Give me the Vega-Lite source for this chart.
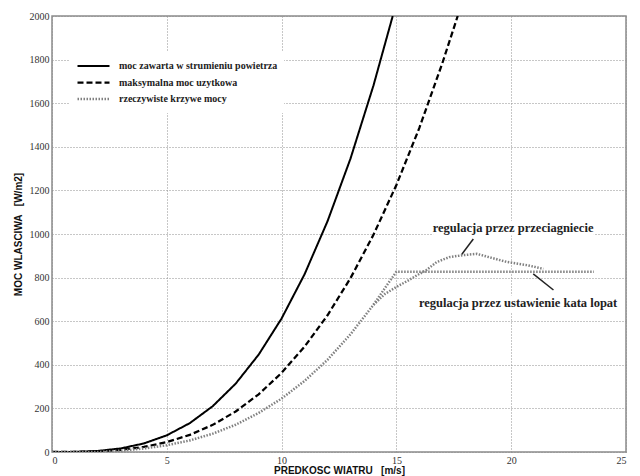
{
  "$schema": "https://vega.github.io/schema/vega-lite/v6.json",
  "width": 574,
  "height": 436,
  "autosize": {"type": "none"},
  "padding": {"left": 52, "top": 16, "right": 14, "bottom": 24},
  "background": "white",
  "config": {
    "view": {"stroke": "#8a8a8a", "strokeWidth": 1.5},
    "axis": {
      "labelFont": "Liberation Serif",
      "labelFontSize": 10,
      "labelColor": "#333",
      "titleFont": "Liberation Sans",
      "titleFontSize": 10,
      "titleFontWeight": "bold",
      "titleColor": "#111",
      "domain": false,
      "grid": true,
      "gridColor": "#8f8f8f",
      "gridDash": [1, 2],
      "gridWidth": 1,
      "ticks": false,
      "labelPadding": 3
    },
    "legend": {
      "orient": "none",
      "legendX": 18,
      "legendY": 36,
      "fillColor": "white",
      "padding": 6,
      "labelFont": "Liberation Serif",
      "labelFontSize": 10,
      "labelFontWeight": "bold",
      "labelColor": "#222",
      "labelOffset": 8,
      "symbolSize": 1024,
      "clipHeight": 16,
      "rowPadding": 0.5
    }
  },
  "datasets": {
    "krzywe": [
      {"v": 0, "p": 0, "seria": "moc zawarta w strumieniu powietrza", "krzywa": "A"},
      {"v": 1, "p": 0.6, "seria": "moc zawarta w strumieniu powietrza", "krzywa": "A"},
      {"v": 2, "p": 4.9, "seria": "moc zawarta w strumieniu powietrza", "krzywa": "A"},
      {"v": 3, "p": 16.5, "seria": "moc zawarta w strumieniu powietrza", "krzywa": "A"},
      {"v": 4, "p": 39.2, "seria": "moc zawarta w strumieniu powietrza", "krzywa": "A"},
      {"v": 5, "p": 76.6, "seria": "moc zawarta w strumieniu powietrza", "krzywa": "A"},
      {"v": 6, "p": 132.3, "seria": "moc zawarta w strumieniu powietrza", "krzywa": "A"},
      {"v": 7, "p": 210.1, "seria": "moc zawarta w strumieniu powietrza", "krzywa": "A"},
      {"v": 8, "p": 313.6, "seria": "moc zawarta w strumieniu powietrza", "krzywa": "A"},
      {"v": 9, "p": 446.5, "seria": "moc zawarta w strumieniu powietrza", "krzywa": "A"},
      {"v": 10, "p": 612.5, "seria": "moc zawarta w strumieniu powietrza", "krzywa": "A"},
      {"v": 11, "p": 815.2, "seria": "moc zawarta w strumieniu powietrza", "krzywa": "A"},
      {"v": 12, "p": 1058.4, "seria": "moc zawarta w strumieniu powietrza", "krzywa": "A"},
      {"v": 13, "p": 1345.7, "seria": "moc zawarta w strumieniu powietrza", "krzywa": "A"},
      {"v": 14, "p": 1680.7, "seria": "moc zawarta w strumieniu powietrza", "krzywa": "A"},
      {"v": 14.84, "p": 2000, "seria": "moc zawarta w strumieniu powietrza", "krzywa": "A"},
      {"v": 0, "p": 0, "seria": "maksymalna moc uzytkowa", "krzywa": "B"},
      {"v": 1, "p": 0.4, "seria": "maksymalna moc uzytkowa", "krzywa": "B"},
      {"v": 2, "p": 2.9, "seria": "maksymalna moc uzytkowa", "krzywa": "B"},
      {"v": 3, "p": 9.8, "seria": "maksymalna moc uzytkowa", "krzywa": "B"},
      {"v": 4, "p": 23.2, "seria": "maksymalna moc uzytkowa", "krzywa": "B"},
      {"v": 5, "p": 45.4, "seria": "maksymalna moc uzytkowa", "krzywa": "B"},
      {"v": 6, "p": 78.4, "seria": "maksymalna moc uzytkowa", "krzywa": "B"},
      {"v": 7, "p": 124.5, "seria": "maksymalna moc uzytkowa", "krzywa": "B"},
      {"v": 8, "p": 185.8, "seria": "maksymalna moc uzytkowa", "krzywa": "B"},
      {"v": 9, "p": 264.6, "seria": "maksymalna moc uzytkowa", "krzywa": "B"},
      {"v": 10, "p": 363.0, "seria": "maksymalna moc uzytkowa", "krzywa": "B"},
      {"v": 11, "p": 483.1, "seria": "maksymalna moc uzytkowa", "krzywa": "B"},
      {"v": 12, "p": 627.2, "seria": "maksymalna moc uzytkowa", "krzywa": "B"},
      {"v": 13, "p": 797.4, "seria": "maksymalna moc uzytkowa", "krzywa": "B"},
      {"v": 14, "p": 996.0, "seria": "maksymalna moc uzytkowa", "krzywa": "B"},
      {"v": 15, "p": 1225.0, "seria": "maksymalna moc uzytkowa", "krzywa": "B"},
      {"v": 16, "p": 1486.7, "seria": "maksymalna moc uzytkowa", "krzywa": "B"},
      {"v": 17, "p": 1783.3, "seria": "maksymalna moc uzytkowa", "krzywa": "B"},
      {"v": 17.67, "p": 2000, "seria": "maksymalna moc uzytkowa", "krzywa": "B"},
      {"v": 0, "p": 0, "seria": "rzeczywiste krzywe mocy", "krzywa": "C"},
      {"v": 2, "p": 0, "seria": "rzeczywiste krzywe mocy", "krzywa": "C"},
      {"v": 3, "p": 6, "seria": "rzeczywiste krzywe mocy", "krzywa": "C"},
      {"v": 4, "p": 16, "seria": "rzeczywiste krzywe mocy", "krzywa": "C"},
      {"v": 5, "p": 31, "seria": "rzeczywiste krzywe mocy", "krzywa": "C"},
      {"v": 6, "p": 53, "seria": "rzeczywiste krzywe mocy", "krzywa": "C"},
      {"v": 7, "p": 84, "seria": "rzeczywiste krzywe mocy", "krzywa": "C"},
      {"v": 8, "p": 125, "seria": "rzeczywiste krzywe mocy", "krzywa": "C"},
      {"v": 9, "p": 179, "seria": "rzeczywiste krzywe mocy", "krzywa": "C"},
      {"v": 10, "p": 245, "seria": "rzeczywiste krzywe mocy", "krzywa": "C"},
      {"v": 11, "p": 326, "seria": "rzeczywiste krzywe mocy", "krzywa": "C"},
      {"v": 12, "p": 423, "seria": "rzeczywiste krzywe mocy", "krzywa": "C"},
      {"v": 13, "p": 540, "seria": "rzeczywiste krzywe mocy", "krzywa": "C"},
      {"v": 14, "p": 675, "seria": "rzeczywiste krzywe mocy", "krzywa": "C"},
      {"v": 14.5, "p": 752, "seria": "rzeczywiste krzywe mocy", "krzywa": "C"},
      {"v": 15, "p": 827, "seria": "rzeczywiste krzywe mocy", "krzywa": "C"},
      {"v": 23.6, "p": 827, "seria": "rzeczywiste krzywe mocy", "krzywa": "C"},
      {"v": 14, "p": 675, "seria": "rzeczywiste krzywe mocy", "krzywa": "D"},
      {"v": 14.5, "p": 725, "seria": "rzeczywiste krzywe mocy", "krzywa": "D"},
      {"v": 15, "p": 757, "seria": "rzeczywiste krzywe mocy", "krzywa": "D"},
      {"v": 15.5, "p": 786, "seria": "rzeczywiste krzywe mocy", "krzywa": "D"},
      {"v": 15.9, "p": 811, "seria": "rzeczywiste krzywe mocy", "krzywa": "D"},
      {"v": 16.3, "p": 834, "seria": "rzeczywiste krzywe mocy", "krzywa": "D"},
      {"v": 16.75, "p": 871, "seria": "rzeczywiste krzywe mocy", "krzywa": "D"},
      {"v": 17.3, "p": 894, "seria": "rzeczywiste krzywe mocy", "krzywa": "D"},
      {"v": 17.9, "p": 903, "seria": "rzeczywiste krzywe mocy", "krzywa": "D"},
      {"v": 18.5, "p": 909, "seria": "rzeczywiste krzywe mocy", "krzywa": "D"},
      {"v": 19.8, "p": 872, "seria": "rzeczywiste krzywe mocy", "krzywa": "D"},
      {"v": 20.7, "p": 857, "seria": "rzeczywiste krzywe mocy", "krzywa": "D"},
      {"v": 21.4, "p": 840, "seria": "rzeczywiste krzywe mocy", "krzywa": "D"}
    ],
    "tla": [
      {"v": 16.6, "v2": 23.6, "p": 993, "p2": 1060},
      {"v": 15.9, "v2": 24.6, "p": 640, "p2": 718}
    ],
    "strzalki": [
      {"v": 18.35, "p": 977, "v2": 17.85, "p2": 907},
      {"v": 20.96, "p": 817, "v2": 21.84, "p2": 743}
    ],
    "napisy": [
      {"v": 20.08, "p": 1026, "napis": "regulacja przez przeciagniecie"},
      {"v": 20.3, "p": 685, "napis": "regulacja przez ustawienie kata lopat"}
    ]
  },
  "layer": [
    {
      "data": {"name": "krzywe"},
      "mark": {"type": "line", "clip": true},
      "encoding": {
        "x": {
          "field": "v",
          "type": "quantitative",
          "scale": {"domain": [0, 25], "nice": false},
          "axis": {
            "values": [0, 5, 10, 15, 20, 25],
            "format": "d",
            "title": "PREDKOSC WIATRU\u00a0\u00a0\u00a0[m/s]",
            "titlePadding": 0
          }
        },
        "y": {
          "field": "p",
          "type": "quantitative",
          "scale": {"domain": [0, 2000], "nice": false},
          "axis": {
            "values": [0, 200, 400, 600, 800, 1000, 1200, 1400, 1600, 1800, 2000],
            "format": "d",
            "title": "MOC WLASCIWA\u00a0\u00a0\u00a0[W/m2]",
            "titlePadding": 6
          }
        },
        "detail": {"field": "krzywa"},
        "color": {
          "field": "seria",
          "type": "nominal",
          "scale": {
            "domain": ["moc zawarta w strumieniu powietrza", "maksymalna moc uzytkowa", "rzeczywiste krzywe mocy"],
            "range": ["#000000", "#000000", "#808080"]
          },
          "legend": {"title": null}
        },
        "strokeDash": {
          "field": "seria",
          "type": "nominal",
          "scale": {
            "domain": ["moc zawarta w strumieniu powietrza", "maksymalna moc uzytkowa", "rzeczywiste krzywe mocy"],
            "range": [[1, 0], [6, 3], [1.5, 1.5]]
          },
          "legend": {"title": null}
        },
        "strokeWidth": {
          "field": "seria",
          "type": "nominal",
          "scale": {
            "domain": ["moc zawarta w strumieniu powietrza", "maksymalna moc uzytkowa", "rzeczywiste krzywe mocy"],
            "range": [2, 2.5, 1.5]
          },
          "legend": {"title": null}
        }
      }
    },
    {
      "data": {"name": "tla"},
      "mark": {"type": "rect", "color": "white"},
      "encoding": {
        "x": {"field": "v", "type": "quantitative"},
        "x2": {"field": "v2"},
        "y": {"field": "p", "type": "quantitative"},
        "y2": {"field": "p2"}
      }
    },
    {
      "data": {"name": "strzalki"},
      "mark": {"type": "rule", "color": "#222", "strokeWidth": 1.5},
      "encoding": {
        "x": {"field": "v", "type": "quantitative"},
        "x2": {"field": "v2"},
        "y": {"field": "p", "type": "quantitative"},
        "y2": {"field": "p2"}
      }
    },
    {
      "data": {"name": "napisy"},
      "mark": {"type": "text", "font": "Liberation Serif", "fontSize": 12.5, "fontWeight": "bold", "color": "#222", "align": "center", "baseline": "middle"},
      "encoding": {
        "x": {"field": "v", "type": "quantitative"},
        "y": {"field": "p", "type": "quantitative"},
        "text": {"field": "napis"}
      }
    }
  ]
}
